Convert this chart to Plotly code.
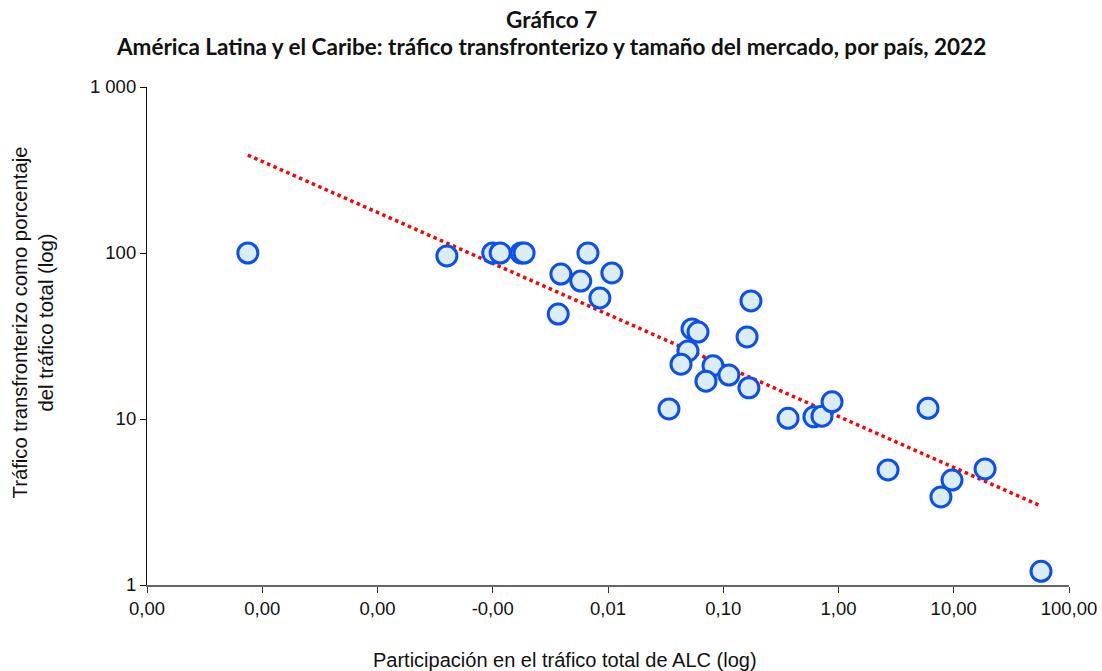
import plotly.graph_objects as go

# participación en el tráfico total de ALC (%)
share = [
    7.5e-6, 4.0e-4, 1.0e-3, 1.16e-3, 1.76e-3, 1.87e-3, 6.7e-3,
    3.9e-3, 0.0108, 5.8e-3, 8.5e-3, 3.7e-3,
    0.174, 0.161, 0.0536, 0.0604, 0.0494, 0.043, 0.0815, 0.112, 0.0708, 0.167,
    0.0338, 0.365, 0.612, 0.719, 0.879,
    5.98, 2.69, 18.7, 9.66, 7.74, 57.2,
]
# tráfico transfronterizo como % del tráfico total
cross_border = [
    100, 96, 100, 100, 100, 100, 100,
    74.7, 75.8, 67.8, 53.6, 42.9,
    51.4, 31.2, 34.9, 33.4, 25.7, 21.4, 20.9, 18.4, 16.9, 15.4,
    11.5, 10.1, 10.3, 10.4, 12.7,
    11.6, 4.93, 5.0, 4.29, 3.39, 1.21,
]

# extremos de la línea de tendencia (potencial)
trend_x = [7.5e-6, 57.2]
trend_y = [389, 2.99]

x_tickvals = [1e-6, 1e-5, 1e-4, 1e-3, 1e-2, 1e-1, 1, 10, 100]
x_ticktext = ["0,00", "0,00", "0,00", "-0,00", "0,01", "0,10", "1,00", "10,00", "100,00"]
y_tickvals = [1, 10, 100, 1000]
y_ticktext = ["1", "10", "100", "1 000"]

title_lines = [
    "Gráfico 7",
    "América Latina y el Caribe: tráfico transfronterizo y tamaño del mercado, por país, 2022",
]
x_title = "Participación en el tráfico total de ALC (log)"
y_title = "Tráfico transfronterizo como porcentaje<br>del tráfico total (log)"

W, H = 1102, 671
M_L, M_R, M_T, M_B = 147, 33, 87, 86
plot_w = W - M_L - M_R
plot_h = H - M_T - M_B


def px_x(fx):
    # px de la figura -> coordenada paper
    return (fx - M_L) / plot_w


def px_y(fy):
    return (H - M_B - fy) / plot_h


fig = go.Figure()

fig.add_trace(go.Scatter(
    x=trend_x, y=trend_y, mode="lines",
    line=dict(color="#ff0000", width=3.5, dash="dot"),
    showlegend=False, hoverinfo="skip",
))

fig.add_trace(go.Scatter(
    x=share, y=cross_border, mode="markers",
    marker=dict(size=20, color="#dbecf3", line=dict(color="#0a4ff0", width=3)),
    showlegend=False,
))

# título en dos líneas
for txt, fy in zip(title_lines, [19, 47]):
    fig.add_annotation(
        text=f"<b>{txt}</b>", xref="paper", yref="paper",
        x=px_x(551), y=px_y(fy),
        xanchor="center", yanchor="middle", showarrow=False,
        font=dict(family="Lato, sans-serif", size=22.5, color="#111"),
    )

# títulos de los ejes (desplazados como en el original)
fig.add_annotation(
    text=x_title, xref="paper", yref="paper",
    x=px_x(565), y=px_y(660), xanchor="center", yanchor="middle",
    showarrow=False, font=dict(size=20),
)
fig.add_annotation(
    text=y_title, xref="paper", yref="paper", textangle=-90,
    x=px_x(32.5), y=px_y(323), xanchor="center", yanchor="middle",
    showarrow=False, font=dict(size=20.3),
)

fig.update_layout(
    width=W, height=H,
    margin=dict(l=M_L, r=M_R, t=M_T, b=M_B),
    plot_bgcolor="white", paper_bgcolor="white",
    font=dict(family="Liberation Sans, Arial, sans-serif", size=18, color="#111"),
    xaxis=dict(
        type="log", range=[-6, 2],
        tickvals=x_tickvals, ticktext=x_ticktext,
        tickfont=dict(size=18.5),
        showgrid=False, zeroline=False, automargin=False,
        showline=True, linecolor="#666", linewidth=1.5,
        ticks="outside", ticklen=6, tickcolor="#333",
    ),
    yaxis=dict(
        type="log", range=[0, 3],
        tickvals=y_tickvals, ticktext=y_ticktext,
        tickfont=dict(size=18.5),
        showgrid=False, zeroline=False, automargin=False,
        showline=True, linecolor="#111", linewidth=1.2,
        ticks="outside", ticklen=6, tickcolor="#111",
    ),
)

# sin el margen por defecto del body, la figura ocupa la ventana entera
fig.write_html(
    "out.html",
    config={"displayModeBar": False},
    post_script="document.body.style.margin = '0';",
)
